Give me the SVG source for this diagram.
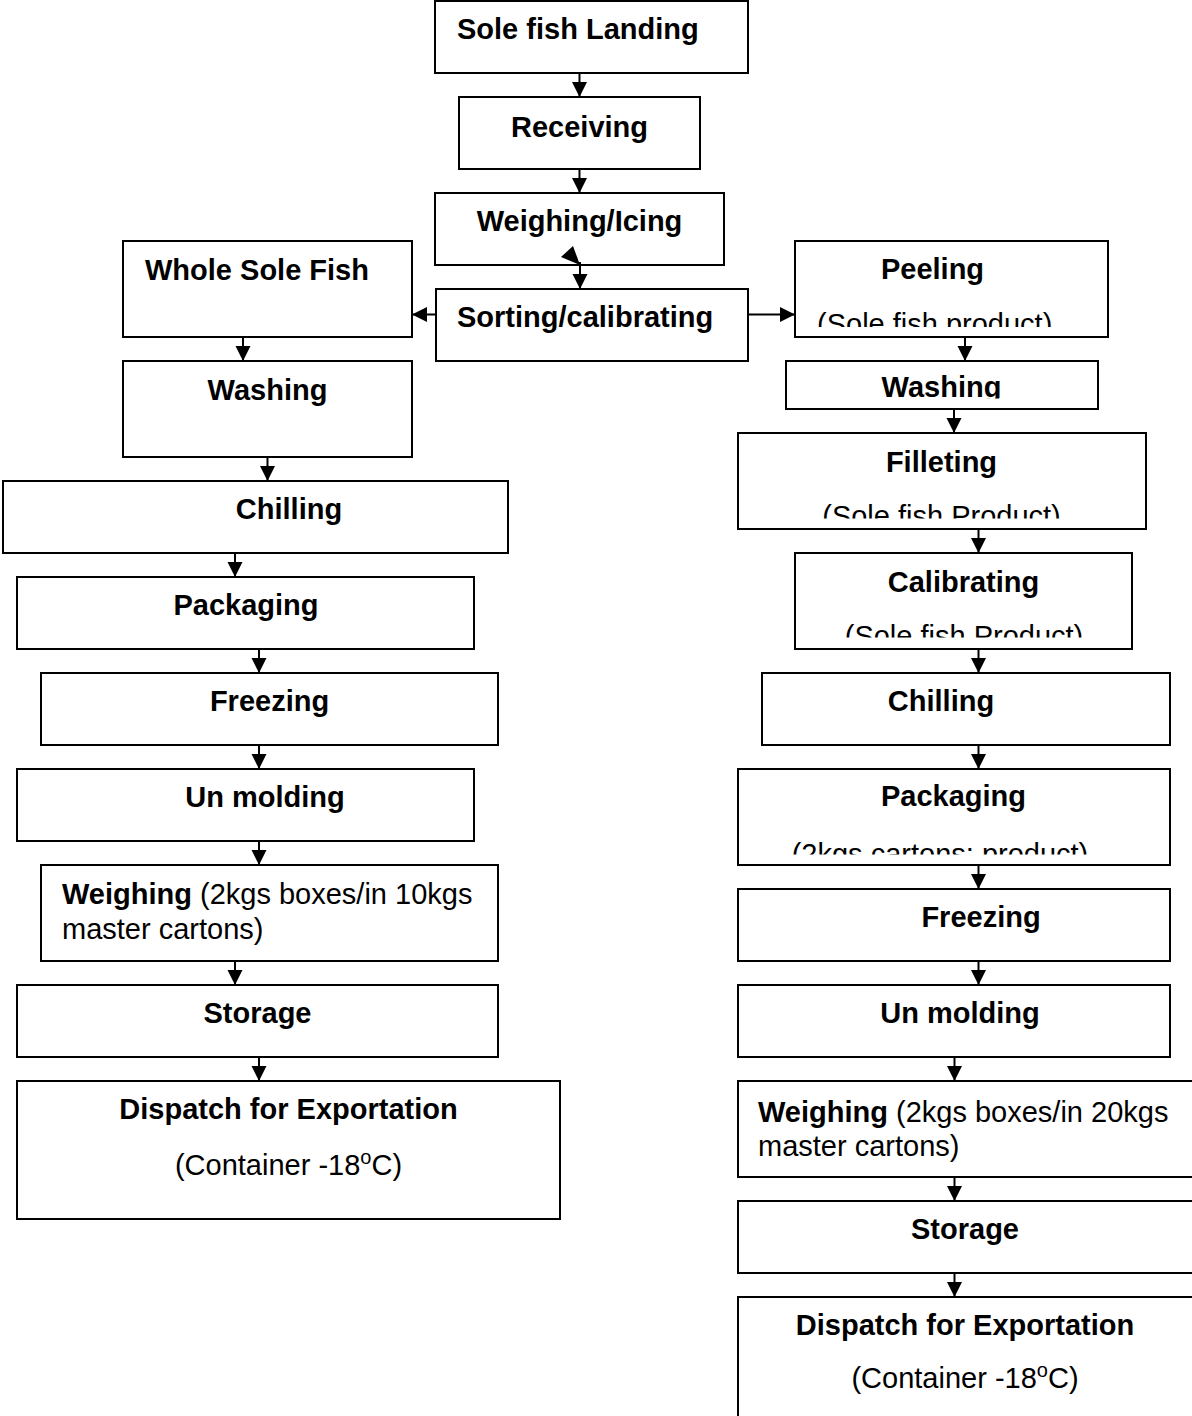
<svg xmlns="http://www.w3.org/2000/svg" width="1192" height="1416" viewBox="0 0 1192 1416">
<style>
.box{fill:#fff;stroke:#000;stroke-width:2}
.b{font-family:"Liberation Sans",Arial,sans-serif;font-size:29px;font-weight:bold;fill:#000}
.n{font-family:"Liberation Sans",Arial,sans-serif;font-size:29px;font-weight:normal;fill:#000}
.c{text-anchor:middle}
.conn line{stroke:#000;stroke-width:2;marker-end:url(#ah)}
</style>
<defs>
<marker id="ah" markerUnits="userSpaceOnUse" markerWidth="16" markerHeight="16" refX="15" refY="7.5" orient="auto">
<path d="M0,0 L15,7.5 L0,15 z" fill="#000"/>
</marker>
<clipPath id="cpPeel"><rect x="796" y="242" width="311" height="85"/></clipPath>
<clipPath id="cpWashR"><rect x="787" y="362" width="310" height="36.5"/></clipPath>
<clipPath id="cpFillet"><rect x="739" y="434" width="406" height="84.5"/></clipPath>
<clipPath id="cpCalib"><rect x="796" y="554" width="335" height="83.5"/></clipPath>
<clipPath id="cpPackR"><rect x="739" y="770" width="430" height="84.5"/></clipPath>
</defs>
<rect width="1192" height="1416" fill="#fff"/>

<g id="landing"><rect class="box" x="435" y="1" width="313" height="72"/><text class="b" x="457" y="39">Sole fish Landing</text></g>
<g id="receiving"><rect class="box" x="459" y="97" width="241" height="72"/><text class="b c" x="579.5" y="137">Receiving</text></g>
<g id="weighing-icing"><rect class="box" x="435" y="193" width="289" height="72"/><text class="b c" x="579.5" y="231">Weighing/Icing</text></g>
<g id="sorting"><rect class="box" x="436" y="289" width="312" height="72"/><text class="b" x="457" y="327">Sorting/calibrating</text></g>

<g id="whole"><rect class="box" x="123" y="241" width="289" height="96"/><text class="b" x="145" y="280">Whole Sole Fish</text></g>
<g id="washing-left"><rect class="box" x="123" y="361" width="289" height="96"/><text class="b c" x="267.5" y="400">Washing</text></g>
<g id="chilling-left"><rect class="box" x="3" y="481" width="505" height="72"/><text class="b c" x="289" y="519">Chilling</text></g>
<g id="packaging-left"><rect class="box" x="17" y="577" width="457" height="72"/><text class="b c" x="246" y="615">Packaging</text></g>
<g id="freezing-left"><rect class="box" x="41" y="673" width="457" height="72"/><text class="b c" x="269.5" y="711">Freezing</text></g>
<g id="unmolding-left"><rect class="box" x="17" y="769" width="457" height="72"/><text class="b c" x="265" y="807">Un molding</text></g>
<g id="weighing-left"><rect class="box" x="41" y="865" width="457" height="96"/><text class="n" x="62" y="904"><tspan class="b">Weighing</tspan> (2kgs boxes/in 10kgs</text><text class="n" x="62" y="939">master cartons)</text></g>
<g id="storage-left"><rect class="box" x="17" y="985" width="481" height="72"/><text class="b c" x="257.5" y="1023">Storage</text></g>
<g id="dispatch-left"><rect class="box" x="17" y="1081" width="543" height="138"/><text class="b c" x="288.5" y="1119">Dispatch for Exportation</text><text class="n c" x="288.5" y="1175">(Container -18<tspan font-size="20" baseline-shift="super">o</tspan>C)</text></g>

<g id="peeling"><rect class="box" x="795" y="241" width="313" height="96"/><text class="b c" x="932.5" y="279">Peeling</text><text class="n" x="817" y="334" clip-path="url(#cpPeel)">(Sole fish product)</text></g>
<g id="washing-right"><rect class="box" x="786" y="361" width="312" height="48"/><text class="b c" x="941.5" y="397" clip-path="url(#cpWashR)">Washing</text></g>
<g id="filleting"><rect class="box" x="738" y="433" width="408" height="96"/><text class="b c" x="941.5" y="472">Filleting</text><text class="n c" x="941.5" y="526" clip-path="url(#cpFillet)">(Sole fish Product)</text></g>
<g id="calibrating"><rect class="box" x="795" y="553" width="337" height="96"/><text class="b c" x="963.5" y="592">Calibrating</text><text class="n c" x="964" y="646" clip-path="url(#cpCalib)">(Sole fish Product)</text></g>
<g id="chilling-right"><rect class="box" x="762" y="673" width="408" height="72"/><text class="b c" x="941" y="711">Chilling</text></g>
<g id="packaging-right"><rect class="box" x="738" y="769" width="432" height="96"/><text class="b c" x="953.5" y="806">Packaging</text><text class="n c" x="940" y="864" clip-path="url(#cpPackR)">(2kgs cartons; product)</text></g>
<g id="freezing-right"><rect class="box" x="738" y="889" width="432" height="72"/><text class="b c" x="981" y="927">Freezing</text></g>
<g id="unmolding-right"><rect class="box" x="738" y="985" width="432" height="72"/><text class="b c" x="960" y="1023">Un molding</text></g>
<g id="weighing-right"><rect class="box" x="738" y="1081" width="470" height="96"/><text class="n" x="758" y="1122"><tspan class="b">Weighing</tspan> (2kgs boxes/in 20kgs</text><text class="n" x="758" y="1156">master cartons)</text></g>
<g id="storage-right"><rect class="box" x="738" y="1201" width="470" height="72"/><text class="b c" x="965" y="1239">Storage</text></g>
<g id="dispatch-right"><rect class="box" x="738" y="1297" width="470" height="140"/><text class="b c" x="965" y="1335">Dispatch for Exportation</text><text class="n c" x="965" y="1388">(Container -18<tspan font-size="20" baseline-shift="super">o</tspan>C)</text></g>

<g id="connectors" class="conn">
<line x1="579.5" y1="73" x2="579.5" y2="97"/>
<line x1="579.5" y1="169" x2="579.5" y2="193"/>
<line x1="580" y1="262" x2="580" y2="289"/>
<polygon points="573,246 561,257 580,265" fill="#000"/>
<line x1="436" y1="314.5" x2="412" y2="314.5"/>
<line x1="748" y1="314.5" x2="795" y2="314.5"/>
<line x1="243" y1="337" x2="243" y2="361"/>
<line x1="267.5" y1="457" x2="267.5" y2="481"/>
<line x1="235" y1="553" x2="235" y2="577"/>
<line x1="259" y1="649" x2="259" y2="673"/>
<line x1="259" y1="745" x2="259" y2="769"/>
<line x1="259" y1="841" x2="259" y2="865"/>
<line x1="235" y1="961" x2="235" y2="985"/>
<line x1="259" y1="1057" x2="259" y2="1081"/>
<line x1="965" y1="337" x2="965" y2="361"/>
<line x1="954" y1="409" x2="954" y2="433"/>
<line x1="978.5" y1="529" x2="978.5" y2="553"/>
<line x1="978.5" y1="649" x2="978.5" y2="673"/>
<line x1="978.5" y1="745" x2="978.5" y2="769"/>
<line x1="978.5" y1="865" x2="978.5" y2="889"/>
<line x1="978.5" y1="961" x2="978.5" y2="985"/>
<line x1="954.5" y1="1057" x2="954.5" y2="1081"/>
<line x1="954.5" y1="1177" x2="954.5" y2="1201"/>
<line x1="954.5" y1="1273" x2="954.5" y2="1297"/>
</g>
</svg>
